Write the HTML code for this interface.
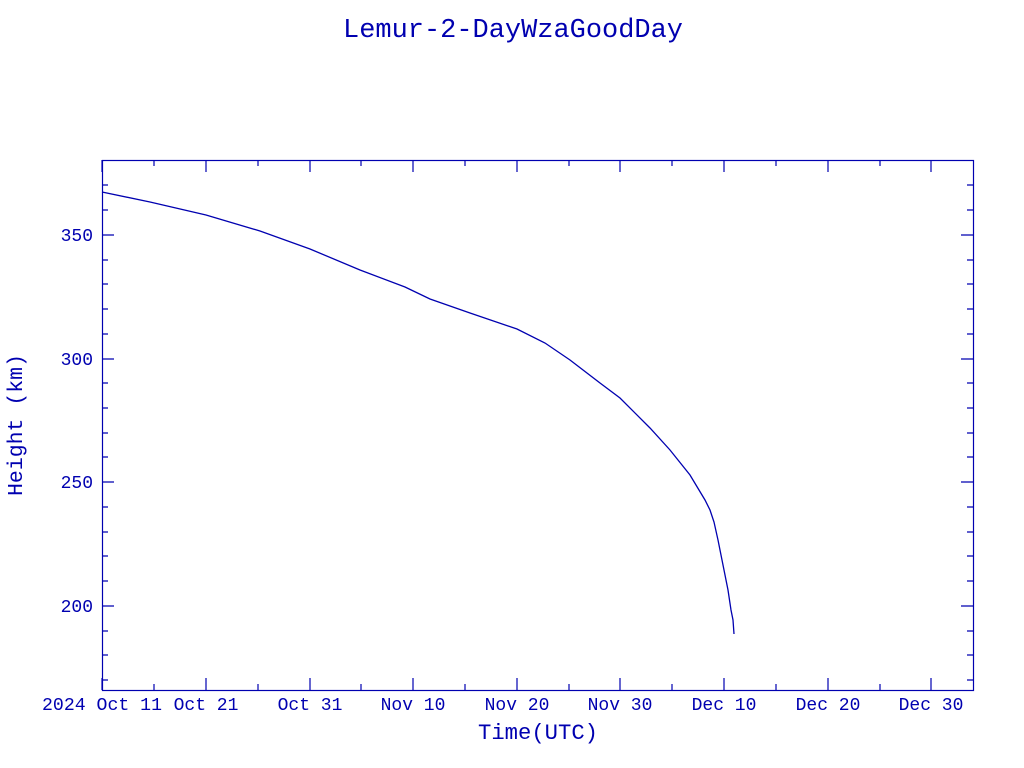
<!DOCTYPE html>
<html><head><style>
html,body{margin:0;padding:0;background:#fff;width:1024px;height:768px;overflow:hidden}
text{font-family:"Liberation Mono",monospace;fill:#0000b0}
</style></head><body>
<svg width="1024" height="768" xmlns="http://www.w3.org/2000/svg">
<text x="513" y="37" font-size="27" text-anchor="middle" textLength="340" lengthAdjust="spacingAndGlyphs">Lemur-2-DayWzaGoodDay</text>
<rect x="102.5" y="160.5" width="871" height="530" fill="none" stroke="#0000b0" stroke-width="1.2"/>
<g stroke="#0000b0" stroke-width="1.2">
<path d="M102 690v-12M206 690v-12M310 690v-12M413 690v-12M517 690v-12M620 690v-12M724 690v-12M828 690v-12M931 690v-12
M102 160v12M206 160v12M310 160v12M413 160v12M517 160v12M620 160v12M724 160v12M828 160v12M931 160v12
M154 690v-6M258 690v-6M361 690v-6M465 690v-6M569 690v-6M672 690v-6M776 690v-6M880 690v-6
M154 160v6M258 160v6M361 160v6M465 160v6M569 160v6M672 160v6M776 160v6M880 160v6
M102 235h12M102 359h12M102 482h12M102 606h12
M973 235h-12M973 359h-12M973 482h-12M973 606h-12
M102 185h6M102 210h6M102 260h6M102 284h6M102 309h6M102 334h6M102 383h6M102 408h6M102 433h6M102 457h6M102 507h6M102 532h6M102 556h6M102 581h6M102 631h6M102 655h6M102 680h6
M973 185h-6M973 210h-6M973 260h-6M973 284h-6M973 309h-6M973 334h-6M973 383h-6M973 408h-6M973 433h-6M973 457h-6M973 507h-6M973 532h-6M973 556h-6M973 581h-6M973 631h-6M973 655h-6M973 680h-6"/>
</g>
<polyline fill="none" stroke="#0000b0" stroke-width="1.3" points="102,192 150,202 206,215 260,231 310,249 360,270 405,287 430,299 470,313 517,329 545,343 570,360 600,383 620,398 650,428 670,450 690,475 705,500 710,510 714,522 718,540 722,560 728,590 731,610 733,620 734,634"/>
<g font-size="18" text-anchor="end">
<text x="93" y="241">350</text><text x="93" y="365">300</text><text x="93" y="488">250</text><text x="93" y="612">200</text>
</g>
<g font-size="18" text-anchor="middle">
<text x="102" y="710" textLength="120" lengthAdjust="spacingAndGlyphs">2024 Oct 11</text><text x="206" y="710">Oct 21</text><text x="310" y="710">Oct 31</text><text x="413" y="710">Nov 10</text><text x="517" y="710">Nov 20</text><text x="620" y="710">Nov 30</text><text x="724" y="710">Dec 10</text><text x="828" y="710">Dec 20</text><text x="931" y="710">Dec 30</text>
<text x="538" y="739" font-size="22" textLength="120" lengthAdjust="spacingAndGlyphs">Time(UTC)</text>
<text transform="translate(22,425) rotate(-90)" font-size="21" textLength="142" lengthAdjust="spacingAndGlyphs">Height (km)</text>
</g>
</svg>
</body></html>
